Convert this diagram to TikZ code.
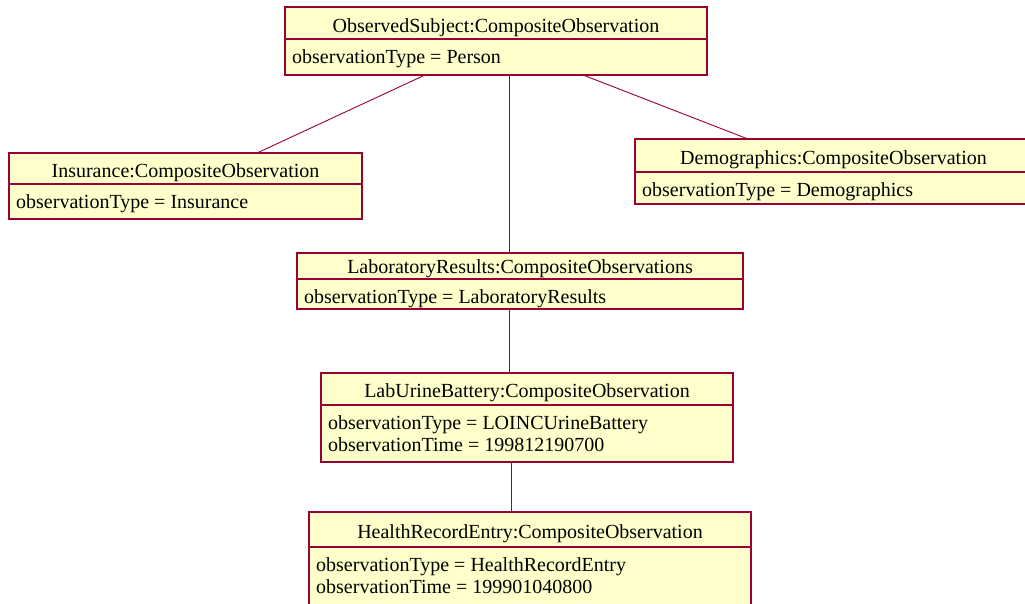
\documentclass[tikz,border=0pt]{standalone}
\usepackage{fontspec}
\setmainfont{Liberation Serif}
\definecolor{umlfill}{RGB}{255,255,204}
\definecolor{umlline}{RGB}{153,0,51}
\newcommand\UMLobj[9]{%
  \node[umlbox, minimum width={(#4-#2)*1pt}, minimum height={(#6-#3)*1pt}] (#1) at (#2,#3) {};
  \draw[umldiv] (#2,#5) -- (#4,#5);
  \node[umltitle] (#1t) at ({(#2+#4)/2},{#5-#9}) {#7};
  \node[umlattr] (#1a) at ({#2+7},{#5+24}) {#8};
}
\begin{document}
\begin{tikzpicture}[x=1pt,y=-1pt,
  umlbox/.style={draw=umlline, fill=umlfill, line width=1.2pt, inner sep=0pt, outer sep=0pt, anchor=north west},
  umldiv/.style={draw=umlline, line width=1.3pt},
  umltitle/.style={anchor=base, inner sep=0pt, font=\fontsize{20}{22}\selectfont},
  umlattr/.style={anchor=base west, inner sep=0pt, font=\fontsize{20}{22}\selectfont},
  link/.style={draw=umlline, line width=0.9pt}]
\useasboundingbox (0,0) rectangle (1025,603);
\clip (0,0) rectangle (1025,603);

\UMLobj{obs}{285}{7}{707}{39}{75}{ObservedSubject:CompositeObservation}{observationType = Person}{7}
\UMLobj{ins}{9}{153}{362}{184}{219}{Insurance:CompositeObservation}{observationType = Insurance}{7}
\UMLobj{dem}{635}{139}{1032}{172}{204}{Demographics:CompositeObservation}{observationType = Demographics}{8}
\UMLobj{lab}{297}{253}{743}{279}{309}{LaboratoryResults:CompositeObservations}{observationType = LaboratoryResults}{6}
\UMLobj{uri}{321}{373}{733}{405}{462}{LabUrineBattery:CompositeObservation}{observationType = LOINCUrineBattery}{8}
\node[umlattr] (uria2) at (328,451) {observationTime = 199812190700};
\UMLobj{hre}{309}{512}{751}{547}{620}{HealthRecordEntry:CompositeObservation}{observationType = HealthRecordEntry}{9}
\node[umlattr] (hrea2) at (316,593) {observationTime = 199901040800};

\coordinate (o1) at ([xshift=140pt]obs.south west);
\coordinate (o2) at ([xshift=298pt]obs.south west);
\coordinate (o3) at ([xshift=224pt]obs.south west);
\coordinate (i1) at ([xshift=248pt]ins.north west);
\coordinate (d1) at ([xshift=113pt]dem.north west);
\coordinate (l1) at ([xshift=212pt]lab.north west);
\coordinate (l2) at ([xshift=212pt]lab.south west);
\coordinate (u1) at ([xshift=188pt]uri.north west);
\coordinate (u2) at ([xshift=190pt]uri.south west);
\coordinate (h1) at ([xshift=202pt]hre.north west);

\draw[link] (o1) -- (i1);
\draw[link] (o2) -- (d1);
\draw[link] (o3) -- (l1);
\draw[link] (l2) -- (u1);
\draw[link] (u2) -- (h1);
\end{tikzpicture}
\end{document}
